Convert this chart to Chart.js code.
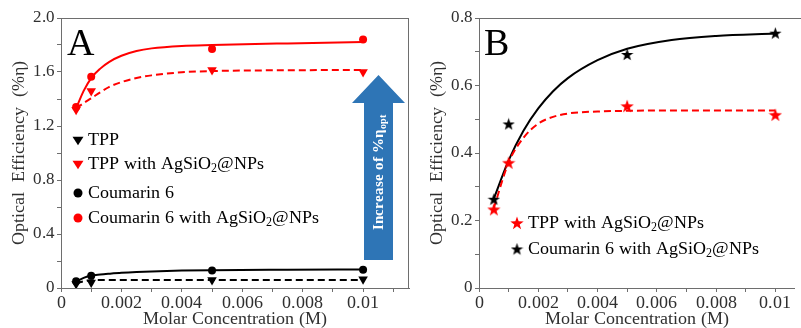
<!DOCTYPE html>
<html>
<head>
<meta charset="utf-8">
<script src="https://cdn.jsdelivr.net/npm/chart.js@4.4.1/dist/chart.umd.min.js"></script>
<style>
  @font-face { font-family: 'PaperSerif'; font-weight: normal; src: local('Liberation Serif'), local('LiberationSerif'), local('DejaVu Serif'); }
  @font-face { font-family: 'PaperSerif'; font-weight: bold; src: local('Liberation Serif Bold'), local('LiberationSerif-Bold'), local('DejaVu Serif Bold'); }
  html, body { margin: 0; padding: 0; background: #fff; }
  #wrap { position: relative; width: 801px; height: 328px; overflow: hidden; }
  #chartA { position: absolute; left: 0; top: 0; }
  #chartB { position: absolute; left: 418px; top: 0; }
</style>
</head>
<body>
<div id="wrap">
  <canvas id="chartA" width="418" height="328"></canvas>
  <canvas id="chartB" width="383" height="328"></canvas>
</div>
<script>
// measured points (molar concentration, M)
const concentrations = [0.0005, 0.001, 0.005, 0.01];

// panel A
const tppA = [0.03, 0.04, 0.06, 0.065];
const tppAgA = [1.32, 1.46, 1.615, 1.60];
const c6A = [0.05, 0.09, 0.13, 0.135];
const c6AgA = [1.34, 1.565, 1.77, 1.84];

// fitted curves in panel A
const fitXA = [0.0005, 0.00075, 0.001, 0.0013, 0.0016, 0.002, 0.0025, 0.003, 0.004, 0.005, 0.0075, 0.01];
const tppFitA = [0.035, 0.05, 0.057, 0.059, 0.06, 0.06, 0.06, 0.06, 0.06, 0.06, 0.06, 0.06];
const tppAgFitA = [1.33, 1.37, 1.405, 1.45, 1.49, 1.525, 1.556, 1.575, 1.598, 1.607, 1.613, 1.615];
const c6FitA = [0.047, 0.075, 0.092, 0.1, 0.106, 0.113, 0.119, 0.123, 0.129, 0.132, 0.135, 0.137];
const c6AgFitA = [1.33, 1.46, 1.555, 1.625, 1.675, 1.72, 1.755, 1.775, 1.793, 1.80, 1.812, 1.822];

// panel B
const tppAgB = [0.233, 0.371, 0.539, 0.513];
const c6AgB = [0.263, 0.486, 0.692, 0.755];
const fitXB = [0.0005, 0.001, 0.0015, 0.002, 0.0025, 0.003, 0.004, 0.005, 0.0065, 0.008, 0.01];
const tppAgFitB = [0.237, 0.372, 0.445, 0.487, 0.507, 0.517, 0.523, 0.525, 0.526, 0.526, 0.526];
const c6AgFitB = [0.265, 0.378, 0.466, 0.532, 0.583, 0.622, 0.675, 0.709, 0.735, 0.747, 0.754];

// ticks
const xTicksA = [0, 0.001, 0.002, 0.003, 0.004, 0.005, 0.006, 0.007, 0.008, 0.009, 0.01, 0.011];
const xLabelsA = ['0', '', '0.002', '', '0.004', '', '0.006', '', '0.008', '', '0.01', ''];
const xTicksB = [0, 0.001, 0.002, 0.003, 0.004, 0.005, 0.006, 0.007, 0.008, 0.009, 0.01];
const xLabelsB = ['0', '', '0.002', '', '0.004', '', '0.006', '', '0.008', '', '0.01'];
const yTicksA = [0, 0.2, 0.4, 0.6, 0.8, 1.0, 1.2, 1.4, 1.6, 1.8, 2.0];
const yLabelsA = ['0', '', '0.4', '', '0.8', '', '1.2', '', '1.6', '', '2.0'];
const yTicksB = [0, 0.1, 0.2, 0.3, 0.4, 0.5, 0.6, 0.7, 0.8];
const yLabelsB = ['0', '', '0.2', '', '0.4', '', '0.6', '', '0.8'];

const SERIF = "PaperSerif, 'Liberation Serif', 'DejaVu Serif', 'Times New Roman', serif";
const RED = '#ff0000';
const TEXT = '#303030';
const AXIS = '#6e6e6e';
const ARROW_BLUE = '#2e75b6';

function pts(xs, ys) {
    return xs.map((x, i) => ({ x: x, y: ys[i] }));
}

function makeStar(color, size) {
    const c = document.createElement('canvas');
    c.width = size; c.height = size;
    const g = c.getContext('2d');
    g.fillStyle = color;
    g.beginPath();
    for (let i = 0; i < 10; i++) {
        const r = i % 2 ? size * 0.2 : size / 2;
        const a = -Math.PI / 2 + i * Math.PI / 5;
        const px = size / 2 + r * Math.cos(a);
        const py = size / 2 + 0.55 + r * Math.sin(a);
        if (i === 0) g.moveTo(px, py); else g.lineTo(px, py);
    }
    g.closePath();
    g.fill();
    return c;
}
const redStar = makeStar(RED, 14);
const blackStar = makeStar('#000', 13);

function markerSet(label, data, color, style, radius, rotation) {
    return {
        label: label,
        data: data,
        showLine: false,
        pointStyle: style,
        pointRadius: radius,
        pointRotation: rotation || 0,
        backgroundColor: color,
        borderColor: color,
        borderWidth: 0,
        order: 0
    };
}

function fitSet(data, color, dashed) {
    return {
        data: data,
        showLine: true,
        borderColor: color,
        borderWidth: 2,
        borderDash: dashed ? [7, 4] : [],
        pointRadius: 0,
        cubicInterpolationMode: 'monotone',
        fill: false,
        order: 1
    };
}

function drawRich(ctx, parts, x, y, size) {
    let cx = x;
    parts.forEach(p => {
        if (p[1] === 'sub') {
            ctx.font = Math.round(size * 0.65) + 'px ' + SERIF;
            ctx.fillText(p[0], cx, y + size * 0.28);
        } else {
            ctx.font = size + 'px ' + SERIF;
            ctx.fillText(p[0], cx, y);
        }
        cx += ctx.measureText(p[0]).width;
    });
}

function drawTriangleDown(ctx, x, y, r, color) {
    ctx.fillStyle = color;
    ctx.beginPath();
    ctx.moveTo(x - r, y - r * 0.6);
    ctx.lineTo(x + r, y - r * 0.6);
    ctx.lineTo(x, y + r * 0.95);
    ctx.closePath();
    ctx.fill();
}

function drawDot(ctx, x, y, r, color) {
    ctx.fillStyle = color;
    ctx.beginPath();
    ctx.arc(x, y, r, 0, Math.PI * 2);
    ctx.fill();
}

const agParts = prefix => [[prefix + 'AgSiO', 'n'], ['2', 'sub'], ['@NPs', 'n']];

// decorations: frame, panel letter, legend, arrow
function panelPlugin(letter, legendRows, opts) {
    return {
        id: 'panel' + letter,
        afterDraw(chart) {
            const ctx = chart.ctx;
            const a = chart.chartArea;
            ctx.save();
            ctx.strokeStyle = AXIS;
            ctx.lineWidth = 1;
            ctx.beginPath();
            ctx.moveTo(a.left, a.top + 0.5);
            ctx.lineTo(opts.rightBorder ? a.right : chart.width, a.top + 0.5);
            if (opts.rightBorder) {
                ctx.moveTo(a.right - 0.5, a.top);
                ctx.lineTo(a.right - 0.5, a.bottom);
            }
            ctx.stroke();

            ctx.fillStyle = '#000';
            ctx.font = '38px ' + SERIF;
            ctx.textBaseline = 'alphabetic';
            ctx.fillText(letter, opts.letterX, 55);

            ctx.textBaseline = 'middle';
            legendRows.forEach(row => {
                if (row.marker === 'tri') drawTriangleDown(ctx, row.mx, row.y, 5.5, row.color);
                else if (row.marker === 'dot') drawDot(ctx, row.mx, row.y, 4.5, row.color);
                else ctx.drawImage(row.img, row.mx - row.img.width / 2, row.y - row.img.height / 2);
                ctx.fillStyle = '#000';
                drawRich(ctx, row.parts, row.tx, row.y, 18);
            });

            if (opts.arrow) {
                ctx.fillStyle = ARROW_BLUE;
                ctx.beginPath();
                ctx.moveTo(378.5, 75);
                ctx.lineTo(405, 103);
                ctx.lineTo(393, 103);
                ctx.lineTo(393, 260);
                ctx.lineTo(364, 260);
                ctx.lineTo(364, 103);
                ctx.lineTo(352, 103);
                ctx.closePath();
                ctx.fill();

                ctx.translate(379, 172);
                ctx.rotate(-Math.PI / 2);
                ctx.fillStyle = '#fff';
                ctx.textBaseline = 'middle';
                ctx.font = 'bold 15px ' + SERIF;
                const main = 'Increase of %η';
                const wMain = ctx.measureText(main).width;
                ctx.font = 'bold 10px ' + SERIF;
                const wSub = ctx.measureText('opt').width;
                const x0 = -(wMain + wSub) / 2;
                ctx.font = 'bold 15px ' + SERIF;
                ctx.fillText(main, x0, 0);
                ctx.font = 'bold 10px ' + SERIF;
                ctx.fillText('opt', x0 + wMain, 4);
            }
            ctx.restore();
        }
    };
}

function axisX(max, ticks, labels) {
    return {
        type: 'linear',
        min: 0,
        max: max,
        afterBuildTicks: s => { s.ticks = ticks.map(v => ({ value: v })); },
        afterFit: s => { s.height = 40; },
        ticks: {
            autoSkip: false,
            maxRotation: 0,
            padding: 0,
            color: TEXT,
            font: { family: SERIF, size: 18 },
            callback: (v, i) => labels[i]
        },
        grid: { drawOnChartArea: false, tickLength: 4, color: AXIS },
        border: { color: AXIS },
        title: {
            display: true,
            text: 'Molar Concentration (M)',
            color: TEXT,
            font: { family: SERIF, size: 18 },
            padding: { top: 0, bottom: -2 }
        }
    };
}

function axisY(max, ticks, labels) {
    return {
        type: 'linear',
        min: 0,
        max: max,
        afterBuildTicks: s => { s.ticks = ticks.map(v => ({ value: v })); },
        afterFit: s => { s.width = 61; },
        ticks: {
            autoSkip: false,
            padding: 2,
            color: TEXT,
            font: { family: SERIF, size: 17 },
            callback: (v, i) => labels[i]
        },
        grid: { drawOnChartArea: false, tickLength: 4, color: AXIS },
        border: { color: AXIS },
        title: {
            display: true,
            text: 'Optical  Efficiency  (%η)',
            color: TEXT,
            font: { family: SERIF, size: 18 },
            padding: { top: 8, bottom: 0 }
        }
    };
}

const baseOptions = (xMax, yMax, xt, xl, yt, yl, right) => ({
    responsive: false,
    animation: false,
    layout: { padding: { top: 18, right: right, left: 0, bottom: 0 } },
    plugins: { legend: { display: false }, tooltip: { enabled: false } },
    scales: { x: axisX(xMax, xt, xl), y: axisY(yMax, yt, yl) }
});

function build() {
    new Chart(document.getElementById('chartA'), {
        type: 'scatter',
        data: {
            datasets: [
                markerSet('TPP', pts(concentrations, tppA), '#000', 'triangle', 5.5, 180),
                markerSet('TPP with AgSiO2@NPs', pts(concentrations, tppAgA), RED, 'triangle', 5.5, 180),
                markerSet('Coumarin 6', pts(concentrations, c6A), '#000', 'circle', 4),
                markerSet('Coumarin 6 with AgSiO2@NPs', pts(concentrations, c6AgA), RED, 'circle', 4),
                fitSet(pts(fitXA, tppFitA), '#000', true),
                fitSet(pts(fitXA, tppAgFitA), RED, true),
                fitSet(pts(fitXA, c6FitA), '#000', false),
                fitSet(pts(fitXA, c6AgFitA), RED, false)
            ]
        },
        options: baseOptions(0.01152, 2.0, xTicksA, xLabelsA, yTicksA, yLabelsA, 9),
        plugins: [panelPlugin('A', [
            { marker: 'tri', color: '#000', mx: 78, tx: 88, y: 140, parts: [['TPP', 'n']] },
            { marker: 'tri', color: RED, mx: 78, tx: 88, y: 164, parts: agParts('TPP with ') },
            { marker: 'dot', color: '#000', mx: 78, tx: 88, y: 193, parts: [['Coumarin 6', 'n']] },
            { marker: 'dot', color: RED, mx: 78, tx: 88, y: 218, parts: agParts('Coumarin 6 with ') }
        ], { letterX: 67, rightBorder: true, arrow: true })]
    });

    new Chart(document.getElementById('chartB'), {
        type: 'scatter',
        data: {
            datasets: [
                markerSet('TPP with AgSiO2@NPs', pts(concentrations, tppAgB), RED, redStar, 7),
                markerSet('Coumarin 6 with AgSiO2@NPs', pts(concentrations, c6AgB), '#000', blackStar, 7),
                fitSet(pts(fitXB, tppAgFitB), RED, true),
                fitSet(pts(fitXB, c6AgFitB), '#000', false)
            ]
        },
        options: baseOptions(0.01063, 0.8, xTicksB, xLabelsB, yTicksB, yLabelsB, 0),
        plugins: [panelPlugin('B', [
            { marker: 'img', img: redStar, mx: 99, tx: 110, y: 223, parts: agParts('TPP with ') },
            { marker: 'img', img: blackStar, mx: 99, tx: 110, y: 249, parts: agParts('Coumarin 6 with ') }
        ], { letterX: 66, rightBorder: false, arrow: false })]
    });
}

Promise.all([
    document.fonts.load('18px PaperSerif'),
    document.fonts.load('bold 15px PaperSerif')
]).then(build, build);
</script>
</body>
</html>
